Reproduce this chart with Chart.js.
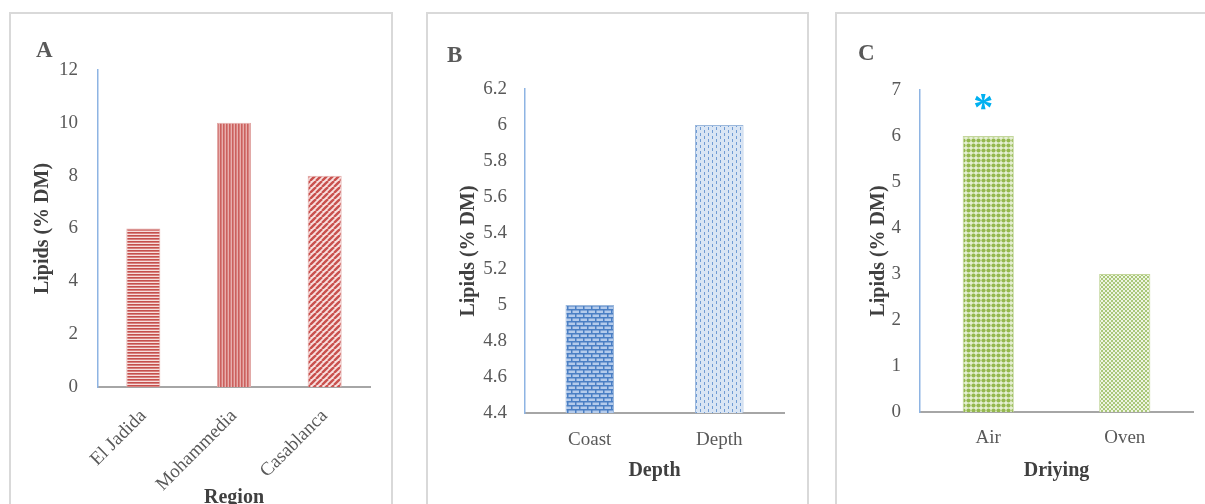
<!DOCTYPE html>
<html>
<head>
<meta charset="utf-8">
<script src="https://cdn.jsdelivr.net/npm/chart.js@4.4.0/dist/chart.umd.min.js"></script>
<style>
  body { margin: 0; background: #fff; width: 1205px; height: 504px; overflow: hidden; position: relative;
         font-family: "Liberation Serif", "Times New Roman", serif; }
  .frame { position: absolute; border: 2px solid #d9d9d9; box-sizing: border-box; }
  .wrap { position: absolute; }
  .tag { position: absolute; font-weight: bold; font-size: 23px; line-height: 1; color: #595959; }
</style>
</head>
<body>
<div class="frame" style="left:9px;top:12px;width:384px;height:520px"></div>
<div class="frame" style="left:426px;top:12px;width:383px;height:520px"></div>
<div class="frame" style="left:835px;top:12px;width:400px;height:520px"></div>

<div class="wrap" style="left:10px;top:13px"><canvas id="chartA" width="382" height="500"></canvas></div>
<div class="wrap" style="left:427px;top:13px"><canvas id="chartB" width="382" height="491"></canvas></div>
<div class="wrap" style="left:836px;top:13px"><canvas id="chartC" width="369" height="491"></canvas></div>

<div class="tag" style="left:36px;top:38px">A</div>
<div class="tag" style="left:447px;top:43px">B</div>
<div class="tag" style="left:858px;top:41px">C</div>

<script>
// Panel A - region
const regions = ['El Jadida', 'Mohammedia', 'Casablanca'];
const regionLipids = [6, 10, 8];
const regionTicks = [0, 2, 4, 6, 8, 10, 12];

// Panel B - depth
const depths = ['Coast', 'Depth'];
const depthLipids = [5, 6];
const depthTicks = [4.4, 4.6, 4.8, 5, 5.2, 5.4, 5.6, 5.8, 6, 6.2];

// Panel C - drying
const dryings = ['Air', 'Oven'];
const dryingLipids = [6, 3];
const dryingTicks = [0, 1, 2, 3, 4, 5, 6, 7];
const dryingMarks = ['*', ''];

const TICK_COLOR = '#595959';
const TITLE_COLOR = '#404040';
const FONT = '"Liberation Serif", "Times New Roman", serif';

// small repeating tiles used as bar fills
function makePattern(ctx, w, h, draw) {
  const c = document.createElement('canvas');
  c.width = w;
  c.height = h;
  draw(c.getContext('2d'), w, h);
  return ctx.createPattern(c, 'repeat');
}

const tiles = {
  hLines: (g, w, h) => {
    g.fillStyle = '#f6dedd'; g.fillRect(0, 0, w, h);
    g.fillStyle = '#c4504d'; g.fillRect(0, 0, w, 1);
    g.fillStyle = '#d9807e'; g.fillRect(0, 1, w, 1);
  },
  vLines: (g, w, h) => {
    g.fillStyle = '#cc605d'; g.fillRect(0, 0, w, h);
    g.fillStyle = '#d6807e'; g.fillRect(1, 0, 1, h);
    g.fillStyle = '#e8aeac'; g.fillRect(2, 0, 1, h);
  },
  diag: (g, w, h) => {
    g.fillStyle = '#f8e0df'; g.fillRect(0, 0, w, h);
    g.strokeStyle = '#c9504d'; g.lineWidth = 2.4;
    [-w, 0, w].forEach(o => {
      g.beginPath(); g.moveTo(o, h); g.lineTo(o + w, 0); g.stroke();
    });
  },
  brick: (g, w, h) => {
    g.fillStyle = '#b4cbeb'; g.fillRect(0, 0, w, h);
    g.fillStyle = '#4a7fc4';
    g.fillRect(0, 0, w, 1.5); g.fillRect(0, 4, w, 1.5);
    g.fillRect(0, 0, 1.5, 4); g.fillRect(4, 4, 1.5, 4);
  },
  dashes: (g, w, h) => {
    g.fillStyle = '#d9e5f4'; g.fillRect(0, 0, w, h);
    g.fillStyle = '#6f9bd4';
    g.fillRect(1, 0, 1, 3); g.fillRect(5, 3, 1, 3);
  },
  dots: (g, w, h) => {
    g.fillStyle = '#e6efd4'; g.fillRect(0, 0, w, h);
    g.fillStyle = '#94b84f';
    g.beginPath(); g.arc(w / 2, h / 2, 2.1, 0, Math.PI * 2); g.fill();
  },
  trellis: (g, w, h) => {
    g.fillStyle = '#eef4e2'; g.fillRect(0, 0, w, h);
    g.strokeStyle = '#aac87a'; g.lineWidth = 1;
    g.beginPath(); g.moveTo(0, 0); g.lineTo(w, h); g.moveTo(w, 0); g.lineTo(0, h); g.stroke();
  }
};

// asterisk (or other mark) above a bar
const markPlugin = {
  id: 'marks',
  afterDatasetsDraw(chart, args, opts) {
    if (!opts.text) return;
    const ctx = chart.ctx;
    const bars = chart.getDatasetMeta(0).data;
    ctx.save();
    ctx.fillStyle = opts.color;
    ctx.font = opts.font;
    ctx.textAlign = 'center';
    ctx.textBaseline = 'middle';
    opts.text.forEach((t, i) => {
      if (t) ctx.fillText(t, bars[i].x + opts.dx, bars[i].y - opts.lift);
    });
    ctx.restore();
  }
};

function panel(id, o) {
  const canvas = document.getElementById(id);
  const ctx = canvas.getContext('2d');
  const fills = o.tiles.map(t => makePattern(ctx, t[1], t[2], tiles[t[0]]));

  new Chart(ctx, {
    type: 'bar',
    data: {
      labels: o.labels,
      datasets: [{
        data: o.values,
        backgroundColor: fills,
        borderColor: o.edge,
        borderWidth: 1,
        base: o.ticks[0],
        categoryPercentage: 1,
        barPercentage: o.barPct
      }]
    },
    options: {
      responsive: false,
      animation: false,
      devicePixelRatio: 1,
      layout: { padding: { left: 0, top: o.top, right: o.right, bottom: 0 } },
      plugins: {
        legend: { display: false },
        tooltip: { enabled: false },
        marks: o.marks || {}
      },
      scales: {
        x: {
          z: 1,
          grid: { display: false, drawTicks: false },
          border: { color: '#a6a6a6', width: 2 },
          ticks: {
            color: TICK_COLOR,
            font: { family: FONT, size: 19 },
            padding: o.xPad,
            minRotation: o.rot,
            maxRotation: o.rot
          },
          title: {
            display: true,
            text: o.xTitle,
            color: TITLE_COLOR,
            font: { family: FONT, size: 20, weight: 'bold' },
            padding: { top: 0, bottom: o.xTitlePad }
          },
          afterFit: s => { s.height = o.xHeight; }
        },
        y: {
          min: o.ticks[0],
          max: o.ticks[o.ticks.length - 1],
          grid: { display: false, drawTicks: false },
          border: { color: '#8eb4e3', width: 1.5 },
          afterBuildTicks: s => { s.ticks = o.ticks.map(v => ({ value: v })); },
          ticks: {
            color: TICK_COLOR,
            font: { family: FONT, size: 19 },
            padding: o.yPad,
            autoSkip: false,
            callback: v => String(Math.round(v * 100) / 100)
          },
          title: {
            display: true,
            text: 'Lipids (% DM)',
            color: TITLE_COLOR,
            font: { family: FONT, size: 20, weight: 'bold' },
            padding: { top: o.yTitlePad, bottom: 0 }
          },
          afterFit: s => { s.width = o.yWidth; }
        }
      }
    },
    plugins: [markPlugin]
  });
}

panel('chartA', {
  labels: regions, values: regionLipids, ticks: regionTicks,
  tiles: [['hLines', 4, 3], ['vLines', 3, 4], ['diag', 6, 6]],
  edge: '#e2a9a7', barPct: 0.375,
  top: 57, right: 22, xHeight: 126, yWidth: 88,
  xPad: 18, rot: 45, yPad: 20,
  xTitle: 'Region', xTitlePad: 3, yTitlePad: 21
});

panel('chartB', {
  labels: depths, values: depthLipids, ticks: depthTicks,
  tiles: [['brick', 8, 8], ['dashes', 8, 6]],
  edge: '#9bb8dc', barPct: 0.375,
  top: 76, right: 25, xHeight: 91, yWidth: 98,
  xPad: 16, rot: 0, yPad: 18,
  xTitle: 'Depth', xTitlePad: 21, yTitlePad: 30
});

panel('chartC', {
  labels: dryings, values: dryingLipids, ticks: dryingTicks,
  tiles: [['dots', 5, 5], ['trellis', 4, 4]],
  edge: '#c3d69b', barPct: 0.375,
  top: 77, right: 12, xHeight: 92, yWidth: 84,
  xPad: 15, rot: 0, yPad: 19,
  xTitle: 'Driying', xTitlePad: 21, yTitlePad: 31,
  marks: { text: dryingMarks, color: '#00b0f0', font: 'bold 40px ' + FONT, dx: -5, lift: 26 }
});
</script>
</body>
</html>
